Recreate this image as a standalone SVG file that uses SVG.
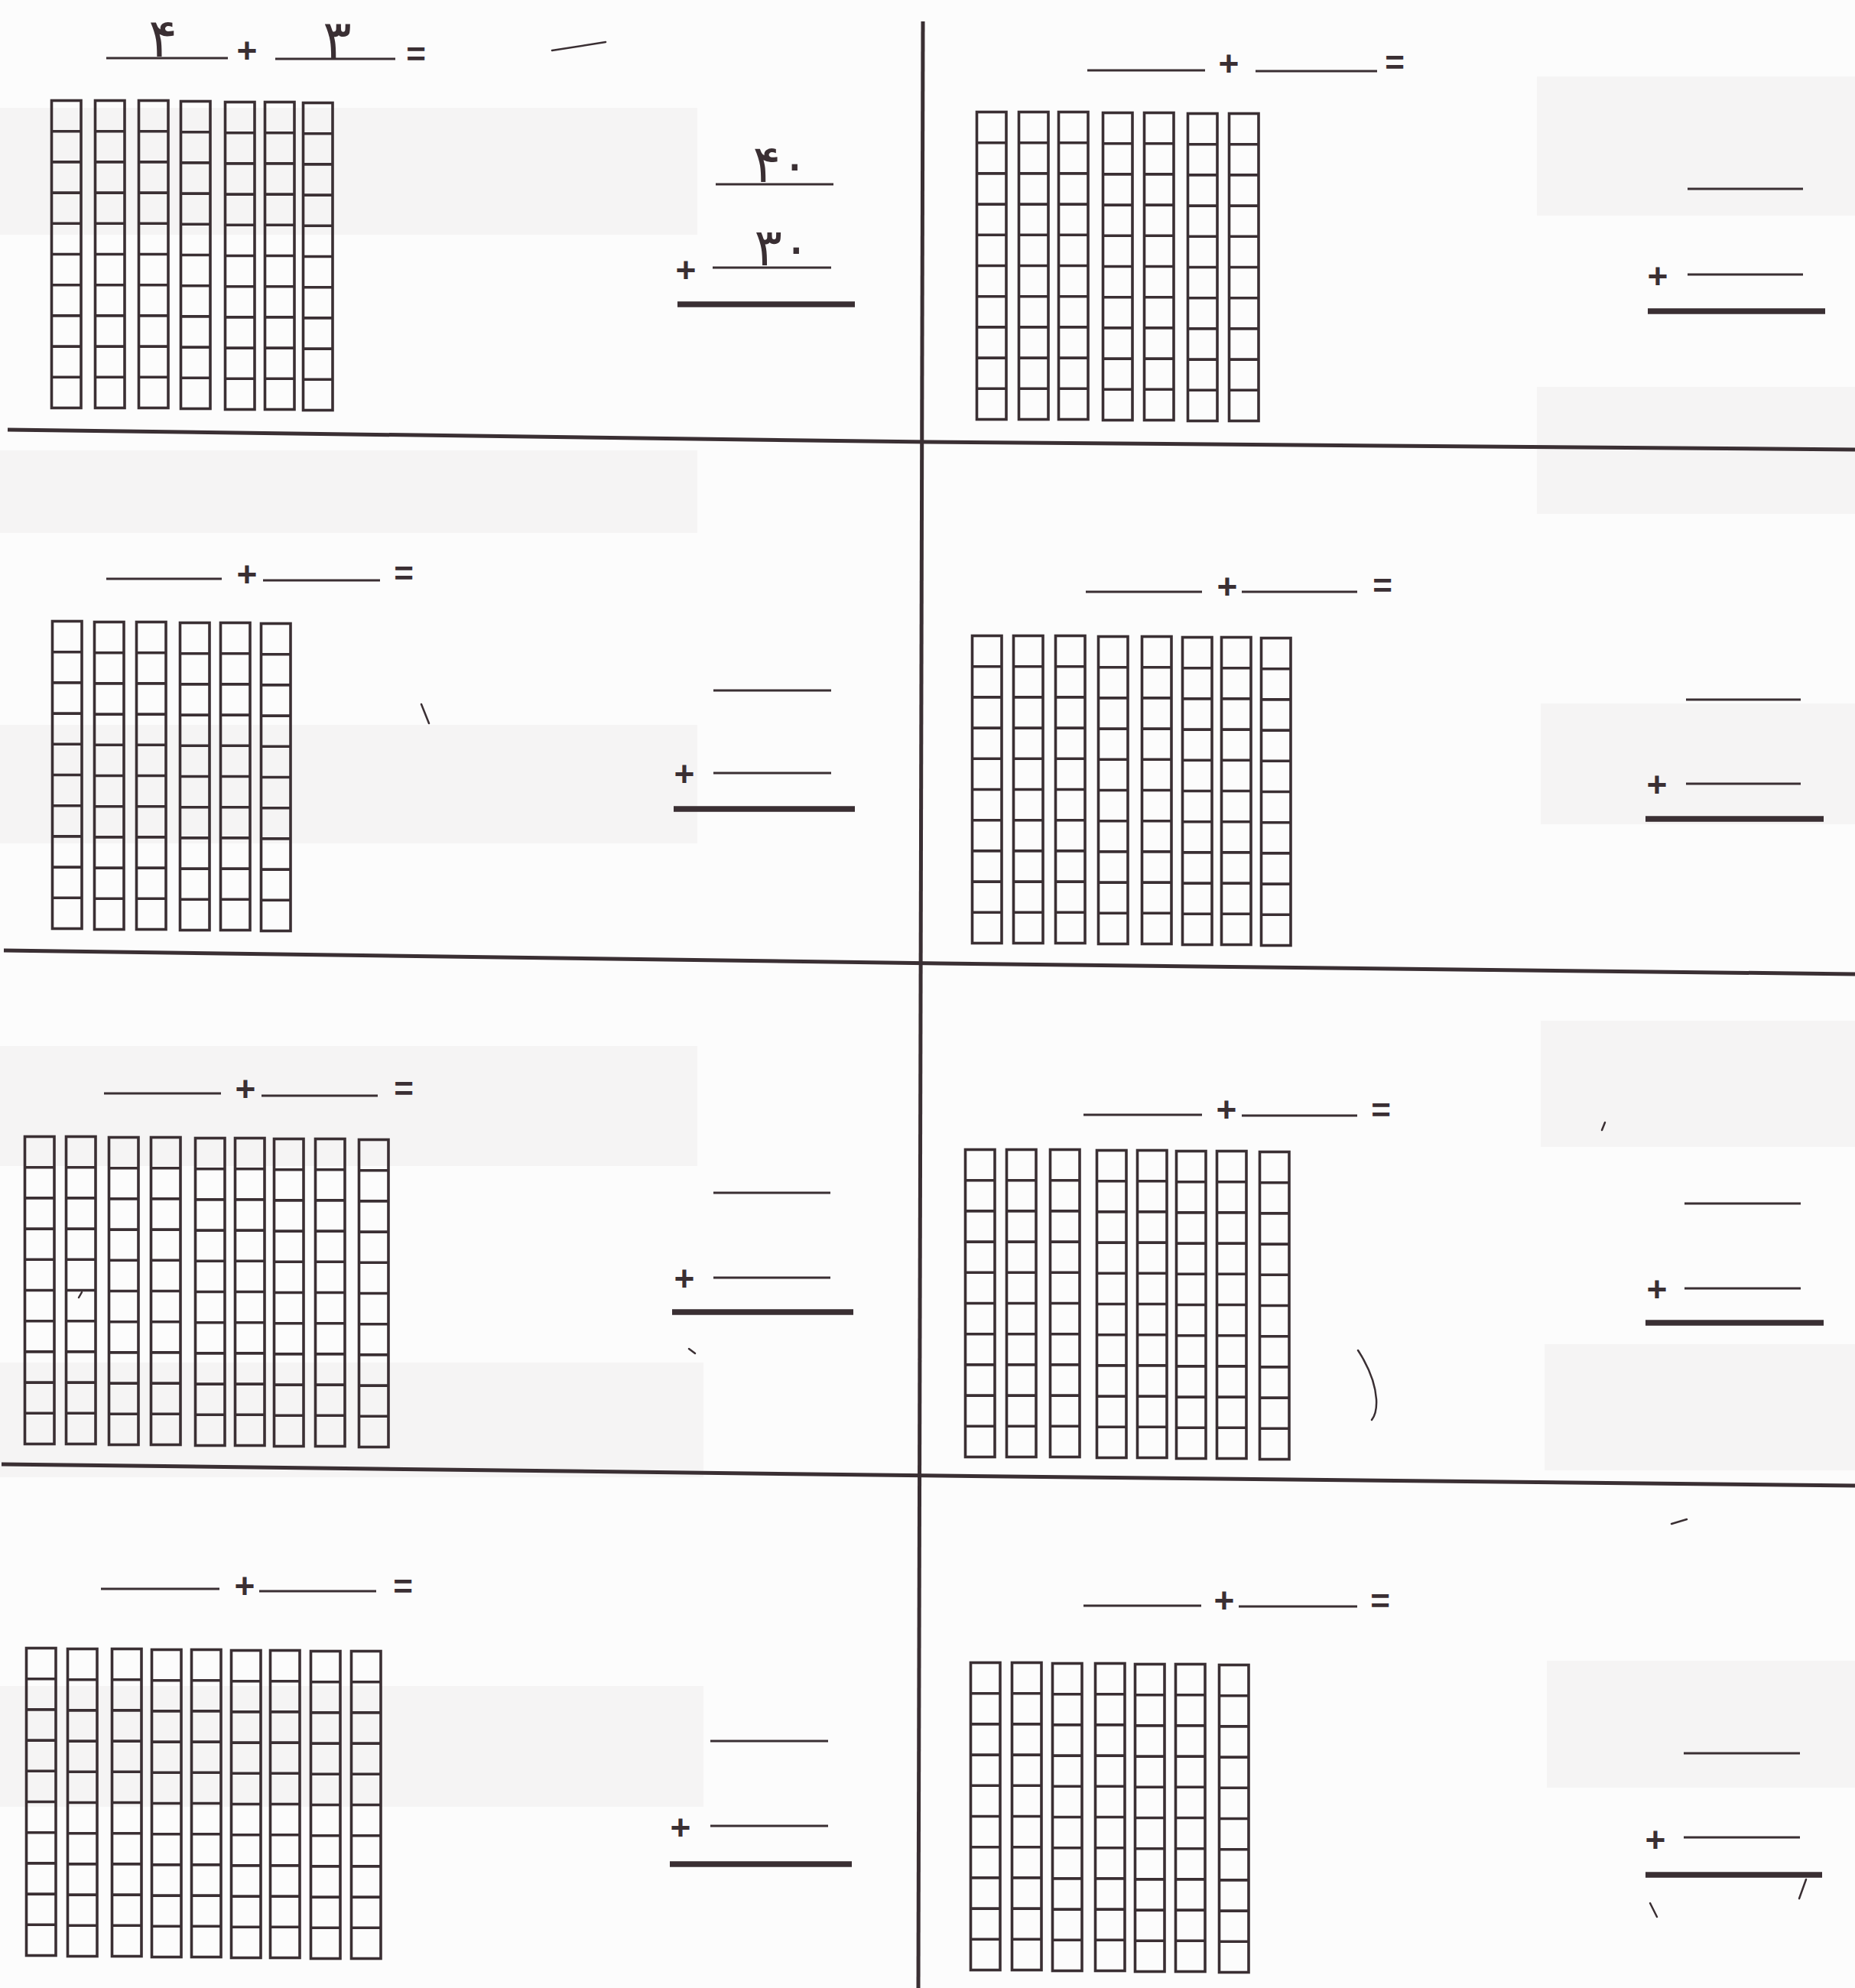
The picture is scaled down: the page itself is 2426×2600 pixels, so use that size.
<svg xmlns="http://www.w3.org/2000/svg" width="2426" height="2600" viewBox="0 0 2426 2600">
<style>
.rod rect,.rod path{stroke:#3a2f33;fill:none;stroke-width:3.6}
.blank{stroke:#3a2f33;stroke-width:2.8}
.sum{stroke:#3a2f33;stroke-width:7.5}
.div{stroke:#3a2f33;stroke-width:5;fill:none}
.ghost{fill:#f5f4f4}
.op{font-family:"Liberation Sans",Arial,sans-serif;font-weight:bold;font-size:46px;fill:#3a2f33;text-anchor:middle}
.eq{font-family:"Liberation Sans",Arial,sans-serif;font-weight:bold;font-size:44px;fill:#3a2f33;text-anchor:middle}
.dig{font-family:"DejaVu Sans",sans-serif;font-size:70px;fill:#3a2f33;text-anchor:middle}
.dig2{font-family:"DejaVu Sans",sans-serif;font-size:68px;fill:#3a2f33;text-anchor:middle}
.mark{stroke:#3a2f33;stroke-width:2.5;fill:none;stroke-linecap:round}
</style>
<defs>
<g id="rod" class="rod">
<rect x="1.5" y="1.5" width="38.5" height="402"/>
<path d="M1.5 41.7H40M1.5 81.9H40M1.5 122.1H40M1.5 162.3H40M1.5 202.5H40M1.5 242.7H40M1.5 282.9H40M1.5 323.1H40M1.5 363.3H40"/>
</g>
</defs>
<rect width="2426" height="2600" fill="#fcfcfc"/>

<g id="show-through">
<rect class="ghost" x="0" y="141" width="912" height="166"/>
<rect class="ghost" x="0" y="589" width="912" height="108"/>
<rect class="ghost" x="0" y="948" width="912" height="155"/>
<rect class="ghost" x="0" y="1368" width="912" height="157"/>
<rect class="ghost" x="0" y="1782" width="920" height="150"/>
<rect class="ghost" x="0" y="2205" width="920" height="158"/>
<rect class="ghost" x="2010" y="100" width="416" height="182"/>
<rect class="ghost" x="2010" y="506" width="416" height="166"/>
<rect class="ghost" x="2015" y="920" width="411" height="158"/>
<rect class="ghost" x="2015" y="1335" width="411" height="165"/>
<rect class="ghost" x="2020" y="1758" width="406" height="165"/>
<rect class="ghost" x="2023" y="2172" width="403" height="166"/>
</g>

<g id="dividers">
<polyline class="div" points="10,562 1213,578 2426,588"/>
<polyline class="div" points="5,1243 1230,1260 2426,1274"/>
<polyline class="div" points="2,1915 1230,1930 2426,1943"/>
<line class="div" x1="1207" y1="28" x2="1201" y2="2600" stroke-width="4"/>
</g>

<g id="connectors"></g>

<g id="s1-left">
<line class="blank" x1="139" y1="76" x2="298" y2="76"/>
<text class="dig" x="213" y="74">۴</text>
<text class="op" x="323" y="82">+</text>
<line class="blank" x1="360" y1="77" x2="517" y2="77"/>
<text class="dig" x="441" y="76">۳</text>
<text class="eq" x="544" y="86">=</text>
<line class="mark" x1="722" y1="66" x2="792" y2="55"/>
<use href="#rod" x="66" y="130"/><use href="#rod" x="123" y="130"/><use href="#rod" x="180" y="130"/><use href="#rod" x="235" y="131"/><use href="#rod" x="293" y="132"/><use href="#rod" x="345" y="132"/><use href="#rod" x="395" y="133"/>
<text class="dig2" x="1021" y="238">۴۰</text>
<line class="blank" x1="936" y1="241" x2="1090" y2="241"/>
<text class="op" x="897" y="369">+</text>
<text class="dig2" x="1023" y="347">۳۰</text>
<line class="blank" x1="932" y1="350" x2="1087" y2="350"/>
<line class="sum" x1="886" y1="398" x2="1118" y2="398"/>
</g>

<g id="s1-right">
<line class="blank" x1="1422" y1="92" x2="1576" y2="92"/>
<text class="op" x="1607" y="99">+</text>
<line class="blank" x1="1642" y1="93" x2="1801" y2="93"/>
<text class="eq" x="1824" y="97">=</text>
<use href="#rod" x="1276" y="145"/><use href="#rod" x="1331" y="145"/><use href="#rod" x="1383" y="145"/><use href="#rod" x="1441" y="146"/><use href="#rod" x="1495" y="146"/><use href="#rod" x="1552" y="147"/><use href="#rod" x="1606" y="147"/>
<line class="blank" x1="2207" y1="247" x2="2358" y2="247"/>
<text class="op" x="2168" y="377">+</text>
<line class="blank" x1="2207" y1="359" x2="2358" y2="359"/>
<line class="sum" x1="2155" y1="407" x2="2387" y2="407"/>
</g>

<g id="s2-left">
<line class="blank" x1="139" y1="757" x2="290" y2="757"/>
<text class="op" x="323" y="767">+</text>
<line class="blank" x1="344" y1="759" x2="497" y2="759"/>
<text class="eq" x="528" y="765">=</text>
<use href="#rod" x="67" y="811"/><use href="#rod" x="122" y="812"/><use href="#rod" x="177" y="812"/><use href="#rod" x="234" y="813"/><use href="#rod" x="287" y="813"/><use href="#rod" x="340" y="814"/>
<line class="mark" x1="551" y1="921" x2="561" y2="946"/>
<line class="blank" x1="933" y1="903" x2="1087" y2="903"/>
<text class="op" x="895" y="1028">+</text>
<line class="blank" x1="933" y1="1011" x2="1087" y2="1011"/>
<line class="sum" x1="881" y1="1058" x2="1118" y2="1058"/>
</g>

<g id="s2-right">
<line class="blank" x1="1420" y1="774" x2="1572" y2="774"/>
<text class="op" x="1605" y="783">+</text>
<line class="blank" x1="1624" y1="774" x2="1775" y2="774"/>
<text class="eq" x="1808" y="781">=</text>
<use href="#rod" x="1270" y="830"/><use href="#rod" x="1324" y="830"/><use href="#rod" x="1379" y="830"/><use href="#rod" x="1435" y="831"/><use href="#rod" x="1492" y="831"/><use href="#rod" x="1545" y="832"/><use href="#rod" x="1596" y="832"/><use href="#rod" x="1648" y="833"/>
<line class="blank" x1="2205" y1="915" x2="2355" y2="915"/>
<text class="op" x="2167" y="1042">+</text>
<line class="blank" x1="2205" y1="1025" x2="2355" y2="1025"/>
<line class="sum" x1="2152" y1="1071" x2="2385" y2="1071"/>
</g>

<g id="s3-left">
<line class="blank" x1="136" y1="1430" x2="289" y2="1430"/>
<text class="op" x="321" y="1440">+</text>
<line class="blank" x1="342" y1="1433" x2="494" y2="1433"/>
<text class="eq" x="528" y="1439">=</text>
<use href="#rod" x="31" y="1485"/><use href="#rod" x="85" y="1485"/><use href="#rod" x="141" y="1486"/><use href="#rod" x="196" y="1486"/><use href="#rod" x="254" y="1487"/><use href="#rod" x="306" y="1487"/><use href="#rod" x="357" y="1488"/><use href="#rod" x="411" y="1488"/><use href="#rod" x="468" y="1489"/>
<line class="mark" x1="103" y1="1697" x2="107" y2="1690"/>
<line class="mark" x1="901" y1="1764" x2="909" y2="1770"/>
<line class="blank" x1="933" y1="1560" x2="1086" y2="1560"/>
<text class="op" x="895" y="1688">+</text>
<line class="blank" x1="933" y1="1671" x2="1086" y2="1671"/>
<line class="sum" x1="879" y1="1716" x2="1116" y2="1716"/>
</g>

<g id="s3-right">
<line class="blank" x1="1417" y1="1458" x2="1572" y2="1458"/>
<text class="op" x="1604" y="1467">+</text>
<line class="blank" x1="1624" y1="1459" x2="1775" y2="1459"/>
<text class="eq" x="1806" y="1467">=</text>
<use href="#rod" x="1261" y="1502"/><use href="#rod" x="1315" y="1502"/><use href="#rod" x="1372" y="1502"/><use href="#rod" x="1433" y="1503"/><use href="#rod" x="1486" y="1503"/><use href="#rod" x="1537" y="1504"/><use href="#rod" x="1590" y="1504"/><use href="#rod" x="1646" y="1505"/>
<path class="mark" d="M1776 1766 Q1798 1800 1800 1830 Q1801 1848 1794 1857"/>
<line class="mark" x1="2099" y1="1468" x2="2095" y2="1478"/>
<line class="blank" x1="2203" y1="1574" x2="2355" y2="1574"/>
<text class="op" x="2167" y="1702">+</text>
<line class="blank" x1="2203" y1="1685" x2="2355" y2="1685"/>
<line class="sum" x1="2152" y1="1730" x2="2385" y2="1730"/>
</g>

<g id="s4-left">
<line class="blank" x1="132" y1="2078" x2="287" y2="2078"/>
<text class="op" x="320" y="2090">+</text>
<line class="blank" x1="339" y1="2081" x2="492" y2="2081"/>
<text class="eq" x="527" y="2090">=</text>
<use href="#rod" x="33" y="2154"/><use href="#rod" x="87" y="2155"/><use href="#rod" x="145" y="2155"/><use href="#rod" x="197" y="2156"/><use href="#rod" x="249" y="2156"/><use href="#rod" x="301" y="2157"/><use href="#rod" x="352" y="2157"/><use href="#rod" x="405" y="2158"/><use href="#rod" x="458" y="2158"/>
<line class="blank" x1="929" y1="2277" x2="1083" y2="2277"/>
<text class="op" x="890" y="2406">+</text>
<line class="blank" x1="929" y1="2388" x2="1083" y2="2388"/>
<line class="sum" x1="876" y1="2438" x2="1114" y2="2438"/>
</g>

<g id="s4-right">
<line class="blank" x1="1417" y1="2100" x2="1571" y2="2100"/>
<text class="op" x="1601" y="2109">+</text>
<line class="blank" x1="1620" y1="2101" x2="1775" y2="2101"/>
<text class="eq" x="1805" y="2109">=</text>
<use href="#rod" x="1268" y="2173"/><use href="#rod" x="1322" y="2173"/><use href="#rod" x="1375" y="2174"/><use href="#rod" x="1431" y="2174"/><use href="#rod" x="1483" y="2175"/><use href="#rod" x="1536" y="2175"/><use href="#rod" x="1593" y="2176"/>
<line class="mark" x1="2186" y1="1993" x2="2206" y2="1987"/>
<line class="blank" x1="2202" y1="2293" x2="2354" y2="2293"/>
<text class="op" x="2165" y="2422">+</text>
<line class="blank" x1="2202" y1="2403" x2="2354" y2="2403"/>
<line class="sum" x1="2152" y1="2452" x2="2383" y2="2452" stroke-width="9"/>
<line class="mark" x1="2362" y1="2458" x2="2353" y2="2483" stroke-width="3"/>
<line class="mark" x1="2158" y1="2489" x2="2167" y2="2507" stroke-width="3"/>
</g>
</svg>
